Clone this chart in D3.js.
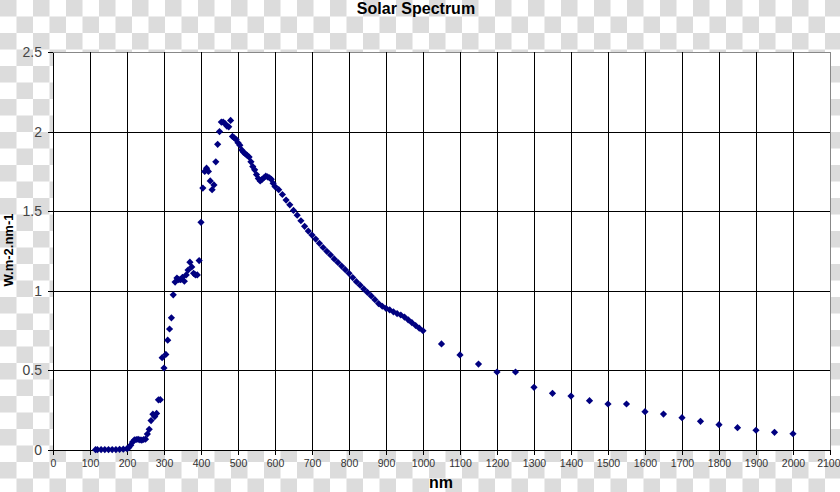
<!DOCTYPE html>
<html>
<head>
<meta charset="utf-8">
<script src="https://cdn.jsdelivr.net/npm/d3@7"></script>
<style>
  html, body { margin: 0; padding: 0; background: #fff; }
  svg { display: block; }
</style>
</head>
<body>
<svg id="chart" width="840" height="492"></svg>
<script>
// ---- data ----
const wavelengths = [
  115,120,130,140,150,160,170,180,190,200,205,210,215,220,225,230,235,240,245,250,
  255,260,265,270,275,280,285,290,295,300,305,310,315,320,325,330,335,340,345,350,
  355,360,365,370,375,380,385,390,395,400,405,410,415,420,425,430,435,440,445,450,
  455,460,465,470,475,480,485,490,495,500,505,510,515,520,525,530,535,540,545,550,
  555,560,565,570,575,580,585,590,595,600,610,620,630,640,650,660,670,680,690,700,
  710,720,730,740,750,760,770,780,790,800,810,820,830,840,850,860,870,880,890,900,
  910,920,930,940,950,960,970,980,990,1000,
  1050,1100,1150,1200,1250,1300,1350,1400,1450,1500,1550,1600,1650,1700,1750,1800,1850,1900,1950,2000
];
const irradiance = [
  0.002,0.002,0.003,0.003,0.003,0.003,0.003,0.004,0.005,0.008,0.015,0.03,0.05,0.063,0.066,0.067,0.064,0.062,0.066,0.068,
  0.10,0.13,0.185,0.225,0.21,0.23,0.315,0.316,0.58,0.515,0.60,0.69,0.76,0.83,0.975,1.055,1.08,1.07,1.07,1.085,
  1.06,1.10,1.13,1.18,1.15,1.11,1.10,1.10,1.19,1.43,1.645,1.75,1.77,1.75,1.69,1.635,1.665,1.81,1.92,2.0,
  2.06,2.06,2.05,2.035,2.03,2.07,1.97,1.96,1.95,1.93,1.915,1.885,1.87,1.86,1.85,1.84,1.81,1.78,1.76,1.73,
  1.705,1.69,1.70,1.71,1.72,1.715,1.71,1.70,1.675,1.655,1.635,1.605,1.57,1.54,1.505,1.475,1.44,1.405,1.375,1.35,
  1.325,1.298,1.272,1.248,1.225,1.20,1.178,1.155,1.133,1.11,1.083,1.057,1.035,1.012,0.99,0.968,0.944,0.92,0.903,0.89,
  0.88,0.868,0.857,0.848,0.835,0.818,0.80,0.782,0.765,0.749,
  0.666,0.597,0.54,0.49,0.49,0.394,0.356,0.339,0.31,0.289,0.289,0.241,0.226,0.203,0.18,0.159,0.14,0.124,0.111,0.102
];
const xTicks = [0,100,200,300,400,500,600,700,800,900,1000,1100,1200,1300,1400,1500,1600,1700,1800,1900,2000,2100];
const yTicks = [0,0.5,1,1.5,2,2.5];
const yTickLabels = ["0","0.5","1","1.5","2","2.5"];
const title = "Solar Spectrum";
const xLabel = "nm";
const yLabel = "W.m-2.nm-1";

// ---- layout ----
const W = 840, H = 492;
const m = {left: 53, top: 52, right: 10, bottom: 42};
const pw = W - m.left - m.right, ph = H - m.top - m.bottom;
const font = "Liberation Sans, Arial, sans-serif";

const svg = d3.select("#chart");
const defs = svg.append("defs");
const pat = defs.append("pattern").attr("id","checker")
  .attr("patternUnits","userSpaceOnUse").attr("width",33).attr("height",33);
pat.append("rect").attr("width",33).attr("height",33).attr("fill","#ffffff");
pat.append("rect").attr("x",0).attr("y",0).attr("width",16.5).attr("height",16.5).attr("fill","#dcdcdc");
pat.append("rect").attr("x",16.5).attr("y",16.5).attr("width",16.5).attr("height",16.5).attr("fill","#dcdcdc");
svg.append("rect").attr("width",W).attr("height",H).attr("fill","url(#checker)");

const x = d3.scaleLinear().domain([0,2100]).range([m.left, m.left + pw]);
const y = d3.scaleLinear().domain([0,2.5]).range([m.top + ph, m.top]);

// plot area
svg.append("rect").attr("x",m.left).attr("y",m.top).attr("width",pw).attr("height",ph)
  .attr("fill","#fff").attr("stroke","#888").attr("shape-rendering","crispEdges");

// grid
const grid = svg.append("g").attr("stroke","#000").attr("stroke-width",1).attr("shape-rendering","crispEdges");
grid.selectAll("line.v").data(xTicks.filter(d => d > 0 && d < 2100)).join("line")
  .attr("class","v").attr("x1",d=>Math.round(x(d))+0.5).attr("x2",d=>Math.round(x(d))+0.5)
  .attr("y1",m.top).attr("y2",m.top+ph);
grid.selectAll("line.h").data(yTicks.filter(d => d > 0 && d < 2.5)).join("line")
  .attr("class","h").attr("y1",d=>Math.round(y(d))+0.5).attr("y2",d=>Math.round(y(d))+0.5)
  .attr("x1",m.left).attr("x2",m.left+pw);

// axes
const xAxis = svg.append("g").attr("transform",`translate(0,${m.top+ph})`)
  .call(d3.axisBottom(x).tickValues(xTicks).tickSize(5).tickSizeOuter(0).tickPadding(5).tickFormat(d3.format("d")));
const yAxis = svg.append("g").attr("transform",`translate(${m.left},0)`)
  .call(d3.axisLeft(y).tickValues(yTicks).tickSize(5).tickSizeOuter(0).tickPadding(6)
    .tickFormat((d,i) => yTickLabels[i]));
[xAxis, yAxis].forEach(a => {
  a.select(".domain").attr("stroke","#000").attr("shape-rendering","crispEdges");
  a.selectAll(".tick line").attr("stroke","#000").attr("shape-rendering","crispEdges");
  a.selectAll(".tick text").attr("fill","#333").attr("font-family",font);
});
xAxis.selectAll(".tick text").attr("font-size",10.5);
yAxis.selectAll(".tick text").attr("font-size",14).attr("fill","#444");
// last x label sits at the window edge in the reference; keep it fully visible
xAxis.selectAll(".tick text").filter(d => d === 2100).attr("text-anchor","end").attr("x",10);

// markers
const sym = d3.symbol().type(d3.symbolSquare).size(26);
svg.append("g").selectAll("path").data(wavelengths.map((w,i)=>[w, irradiance[i]])).join("path")
  .attr("d", sym)
  .attr("transform", d => `translate(${x(d[0])},${y(d[1])}) rotate(45)`)
  .attr("fill","#000080");

// titles
svg.append("text").attr("x",416).attr("y",14).attr("text-anchor","middle")
  .attr("font-family",font).attr("font-weight","bold").attr("font-size",16).attr("fill","#000").text(title);
svg.append("text").attr("x",441).attr("y",488).attr("text-anchor","middle")
  .attr("font-family",font).attr("font-weight","bold").attr("font-size",16).attr("fill","#000").text(xLabel);
svg.append("text").attr("transform","translate(13,250) rotate(-90)").attr("text-anchor","middle")
  .attr("font-family",font).attr("font-weight","bold").attr("font-size",13).attr("fill","#000").text(yLabel);
</script>
</body>
</html>
